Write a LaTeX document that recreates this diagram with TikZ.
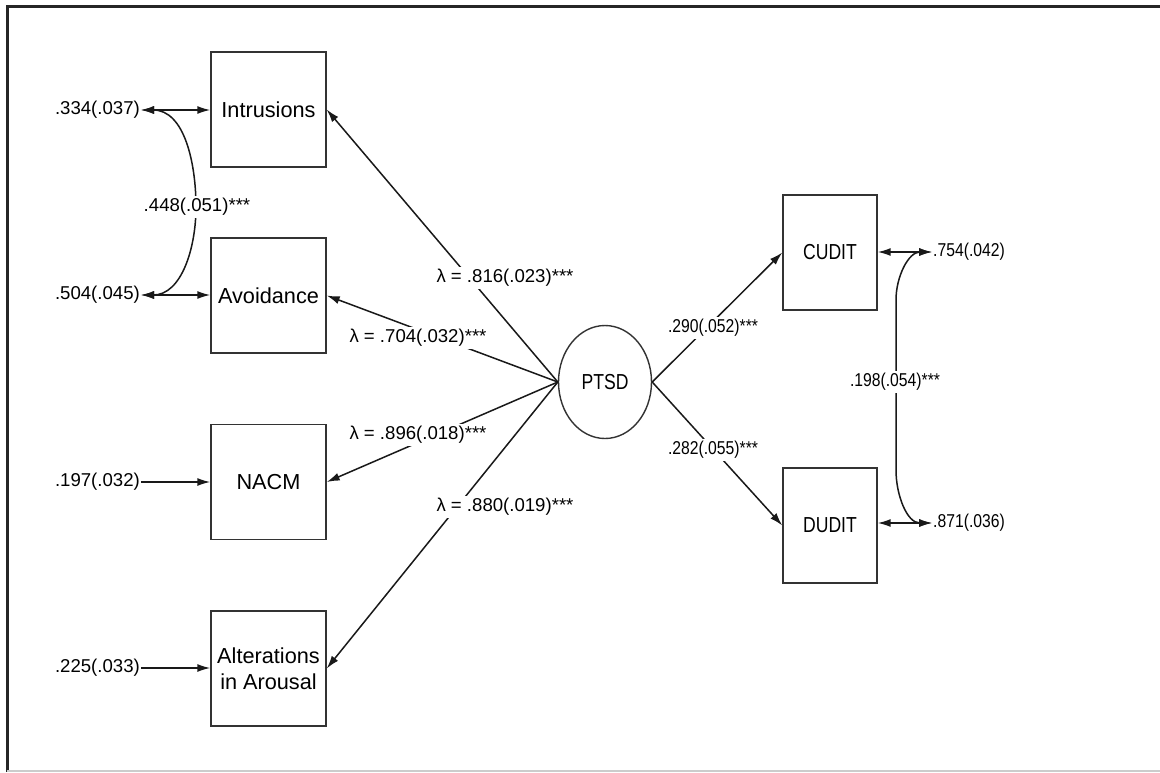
\documentclass[tikz,border=0pt]{standalone}
\usepackage{fontspec}
\setmainfont{Liberation Sans}
\usepackage{graphicx}
\usetikzlibrary{arrows.meta,shapes.geometric}

% right-hand part of the model is set in horizontally condensed type
\newcommand{\narrowbox}[1]{\scalebox{0.81}[1]{#1}}
\newcommand{\narrowlbl}[1]{\scalebox{0.845}[1]{#1}}

\begin{document}
\begin{tikzpicture}[x=1pt,y=-1pt,
  ink/.style={draw=black!90, line width=1.5pt},
  obsbox/.style={draw=black!80, line width=1.4pt, minimum width=115pt, minimum height=115pt,
    inner sep=0pt, font=\fontsize{21.7}{26.5}\selectfont, align=center},
  narrowobs/.style={obsbox, minimum width=94pt},
  latent/.style={ellipse, draw=black!80, line width=1.4pt, minimum width=93pt,
    minimum height=113pt, inner sep=0pt, font=\fontsize{21.7}{26}\selectfont},
  est/.style={font=\fontsize{18.6}{22}\selectfont, inner sep=1pt},
  estbg/.style={est, fill=white, inner sep=2pt},
  tip/.style={-{Latex[length=13pt,width=8pt]}},
  tips/.style={{Latex[length=13pt,width=8pt]}-{Latex[length=13pt,width=8pt]}},
]
\useasboundingbox[fill=white] (0,0) rectangle (1160,772);

% frame
\draw[line width=3pt, black!85] (1160,6) -- (7,6) -- (7,772);
\draw[line width=1.5pt, black!20] (7,771) -- (1160,771);

% observed indicators and latent factor
\node[obsbox] (intr)  at (268.5,109.5) {Intrusions};
\node[obsbox] (avoid) at (268.5,295.5) {Avoidance};
\node[obsbox] (nacm)  at (268.5,482)   {NACM};
\node[obsbox] (alt)   at (268.5,668.5) {Alterations\\in Arousal};
\node[latent] (ptsd)  at (605,382)     {\narrowbox{PTSD}};
\node[narrowobs] (cudit) at (830,252.5) {\narrowbox{CUDIT}};
\node[narrowobs] (dudit) at (830,525.5) {\narrowbox{DUDIT}};

% residual variances
\node[est, anchor=east] (e1) at (141,110) {.334(.037)};
\node[est, anchor=east] (e2) at (141,295) {.504(.045)};
\node[est, anchor=east] (e3) at (141,482) {.197(.032)};
\node[est, anchor=east] (e4) at (141,668) {.225(.033)};
\node[est, anchor=west] (e5) at (932,252) {\narrowlbl{.754(.042)}};
\node[est, anchor=west] (e6) at (932,523) {\narrowlbl{.871(.036)}};

\draw[ink,tips] (e1.east) -- (e1.east -| intr.west);
\draw[ink,tips] (e2.east) -- (e2.east -| avoid.west);
\draw[ink,tip]  (e3.east) -- (e3.east -| nacm.west);
\draw[ink,tip]  (e4.east) -- (e4.east -| alt.west);
\draw[ink,tips] (cudit.east |- e5.west) -- (e5.west);
\draw[ink,tips] (dudit.east |- e6.west) -- (e6.west);

% residual covariances
\draw[ink,tips] (e1.east) to[out=0,in=90] (196,207) to[out=-90,in=0] (e2.east);
\node[estbg] (c1) at (197,207) {.448(.051)***};
\draw[ink,tips] (e5.west) to[out=180,in=90] (896,300) -- (896,470) to[out=-90,in=180] (e6.west);
\node[estbg] (c2) at (895,382) {\narrowlbl{.198(.054)***}};

% factor loadings
\draw[ink,tip] (ptsd.west) -- (intr.east);
\draw[ink,tip] (ptsd.west) -- (avoid.east);
\draw[ink,tip] (ptsd.west) -- (nacm.east);
\draw[ink,tip] (ptsd.west) -- (alt.east);
\node[estbg] (l1) at (505,278) {λ = .816(.023)***};
\node[estbg] (l2) at (418,338) {λ = .704(.032)***};
\node[estbg] (l3) at (418,435) {λ = .896(.018)***};
\node[estbg] (l4) at (505,507) {λ = .880(.019)***};

% structural paths
\draw[ink,tip] (ptsd.east) -- (cudit.west);
\draw[ink,tip] (ptsd.east) -- (dudit.west);
\node[estbg] (p1) at (713,328) {\narrowlbl{.290(.052)***}};
\node[estbg] (p2) at (713,450) {\narrowlbl{.282(.055)***}};
\end{tikzpicture}
\end{document}
